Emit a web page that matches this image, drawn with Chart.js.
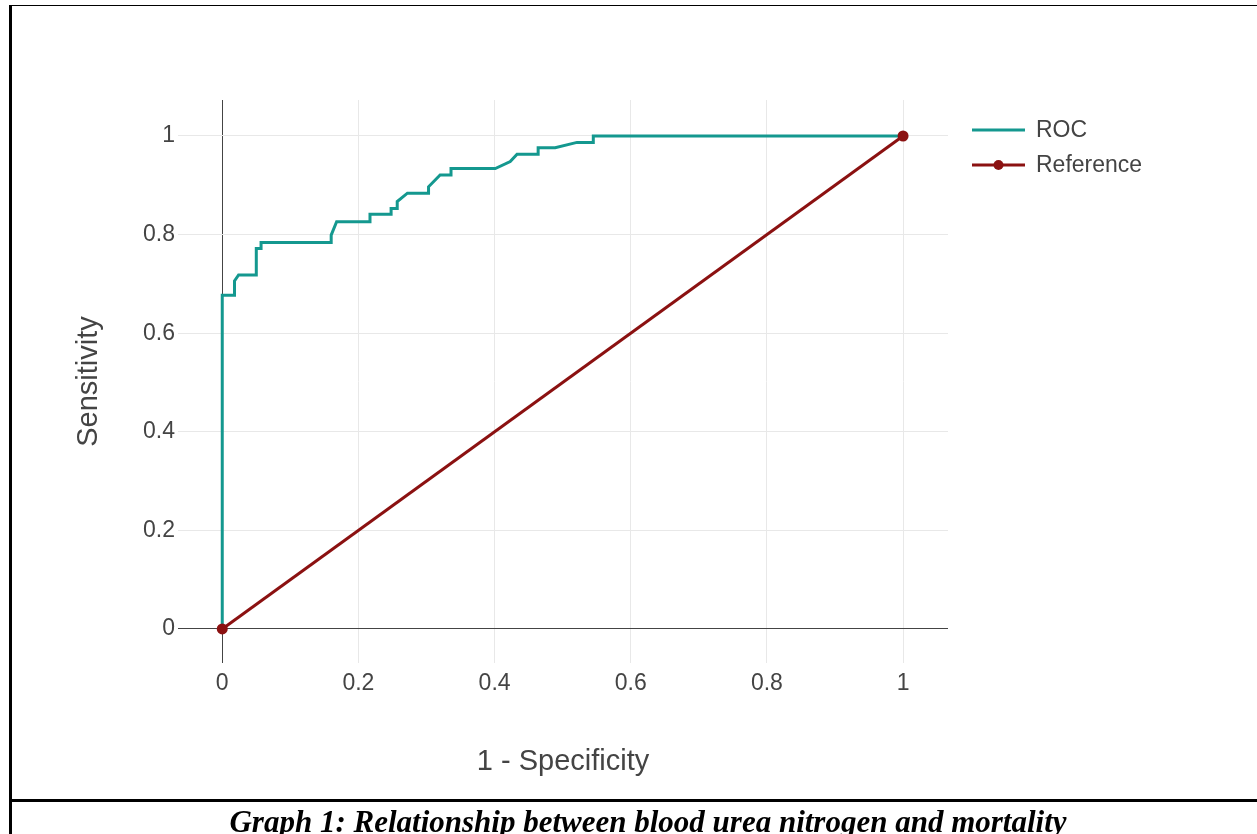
<!DOCTYPE html>
<html>
<head>
<meta charset="utf-8">
<script src="https://cdn.jsdelivr.net/npm/chart.js@4"></script>
<style>
  body { margin: 0; width: 1257px; height: 834px; overflow: hidden; background: #fff; position: relative; }
  #myChart { position: absolute; left: 0; top: 0; }
  .ln { position: absolute; background: #000; }
  #caption {
    position: absolute; left: 0; width: 1296px; top: 801px;
    text-align: center; font: italic bold 31px "Liberation Serif", serif; line-height: 42px; color: #000;
  }
</style>
</head>
<body>
<canvas id="myChart" width="1257" height="795"></canvas>
<div class="ln" style="left:9px; top:5px; width:1248px; height:1px;"></div>
<div class="ln" style="left:9px; top:5px; width:3px; height:829px;"></div>
<div class="ln" style="left:9px; top:799px; width:1248px; height:3px;"></div>
<div id="caption">Graph 1: Relationship between blood urea nitrogen and mortality</div>
<script>
// ROC curve
const rocX = [0, 0, 0.018, 0.018, 0.024, 0.050, 0.050, 0.057, 0.057, 0.160, 0.160, 0.168, 0.217, 0.217, 0.248, 0.248,
  0.257, 0.257, 0.272, 0.303, 0.303, 0.320, 0.336, 0.336, 0.401, 0.423, 0.433, 0.464, 0.464, 0.489, 0.521, 0.545, 0.545, 1];
const rocY = [0, 0.677, 0.677, 0.706, 0.718, 0.718, 0.772, 0.772, 0.784, 0.784, 0.799, 0.826, 0.826, 0.841, 0.841, 0.853,
  0.853, 0.867, 0.884, 0.884, 0.897, 0.921, 0.921, 0.934, 0.934, 0.948, 0.963, 0.963, 0.976, 0.976, 0.987, 0.987, 1, 1];
const refX = [0, 1];
const refY = [0, 1];
const xTicks = [0, 0.2, 0.4, 0.6, 0.8, 1];
const yTicks = [0, 0.2, 0.4, 0.6, 0.8, 1];

const rocColor = '#14988f';
const refColor = '#8b1111';
const txtColor = '#444';

const toPoints = (xs, ys) => xs.map((x, i) => ({ x, y: ys[i] }));
const fmt = v => String(Math.round(v * 10) / 10);

const legendPlugin = {
  id: 'sideLegend',
  afterDraw(chart) {
    const ctx = chart.ctx;
    const items = [
      { label: 'ROC', color: rocColor, y: 130, dot: false },
      { label: 'Reference', color: refColor, y: 165, dot: true }
    ];
    ctx.save();
    items.forEach(it => {
      ctx.strokeStyle = it.color;
      ctx.lineWidth = 3;
      ctx.beginPath();
      ctx.moveTo(972, it.y);
      ctx.lineTo(1025, it.y);
      ctx.stroke();
      if (it.dot) {
        ctx.fillStyle = it.color;
        ctx.beginPath();
        ctx.arc(998.5, it.y, 5, 0, Math.PI * 2);
        ctx.fill();
      }
      ctx.fillStyle = txtColor;
      ctx.font = '23px "Liberation Sans", Arial, sans-serif';
      ctx.textBaseline = 'middle';
      ctx.textAlign = 'left';
      ctx.fillText(it.label, 1036, it.y + 1);
    });
    ctx.restore();
  }
};

const gridColor = ctx => (ctx.tick && ctx.tick.value === 0 ? '#444' : '#e8e8e8');
const tickFont = { family: '"Liberation Sans", Arial, sans-serif', size: 23, lineHeight: 1.2 };
const titleFont = { family: '"Liberation Sans", Arial, sans-serif', size: 29 };

const canvas = document.getElementById('myChart').getContext('2d');
const myChart = new Chart(canvas, {
  type: 'line',
  data: {
    datasets: [
      {
        label: 'ROC',
        data: toPoints(rocX, rocY),
        borderColor: rocColor,
        borderWidth: 3,
        pointRadius: 0,
        tension: 0,
        fill: false,
        order: 2
      },
      {
        label: 'Reference',
        data: toPoints(refX, refY),
        borderColor: refColor,
        backgroundColor: refColor,
        borderWidth: 3,
        pointRadius: 5.5,
        pointBorderWidth: 0,
        tension: 0,
        fill: false,
        order: 1
      }
    ]
  },
  options: {
    responsive: false,
    animation: false,
    layout: { padding: { top: 100, right: 309, bottom: 0, left: 0 } },
    plugins: { legend: { display: false }, tooltip: { enabled: false } },
    scales: {
      x: {
        type: 'linear',
        min: -0.065,
        max: 1.066,
        afterBuildTicks: s => { s.ticks = xTicks.map(v => ({ value: v })); },
        afterFit: s => { s.height = 132; },
        grid: { color: gridColor, lineWidth: 1, drawTicks: false },
        border: { display: false },
        ticks: { color: txtColor, font: tickFont, padding: 7, maxRotation: 0, callback: fmt },
        title: { display: true, text: '1 - Specificity', color: txtColor, font: titleFont, padding: { top: 0, bottom: 16 } }
      },
      y: {
        type: 'linear',
        min: -0.069,
        max: 1.073,
        afterBuildTicks: s => { s.ticks = yTicks.map(v => ({ value: v })); },
        afterFit: s => { s.width = 178; },
        grid: { color: gridColor, lineWidth: 1, drawTicks: false },
        border: { display: false },
        ticks: { color: txtColor, font: tickFont, padding: 3, callback: fmt },
        title: { display: true, text: 'Sensitivity', color: txtColor, font: titleFont, padding: { top: 72, bottom: 0 } }
      }
    }
  },
  plugins: [legendPlugin]
});
</script>
</body>
</html>
